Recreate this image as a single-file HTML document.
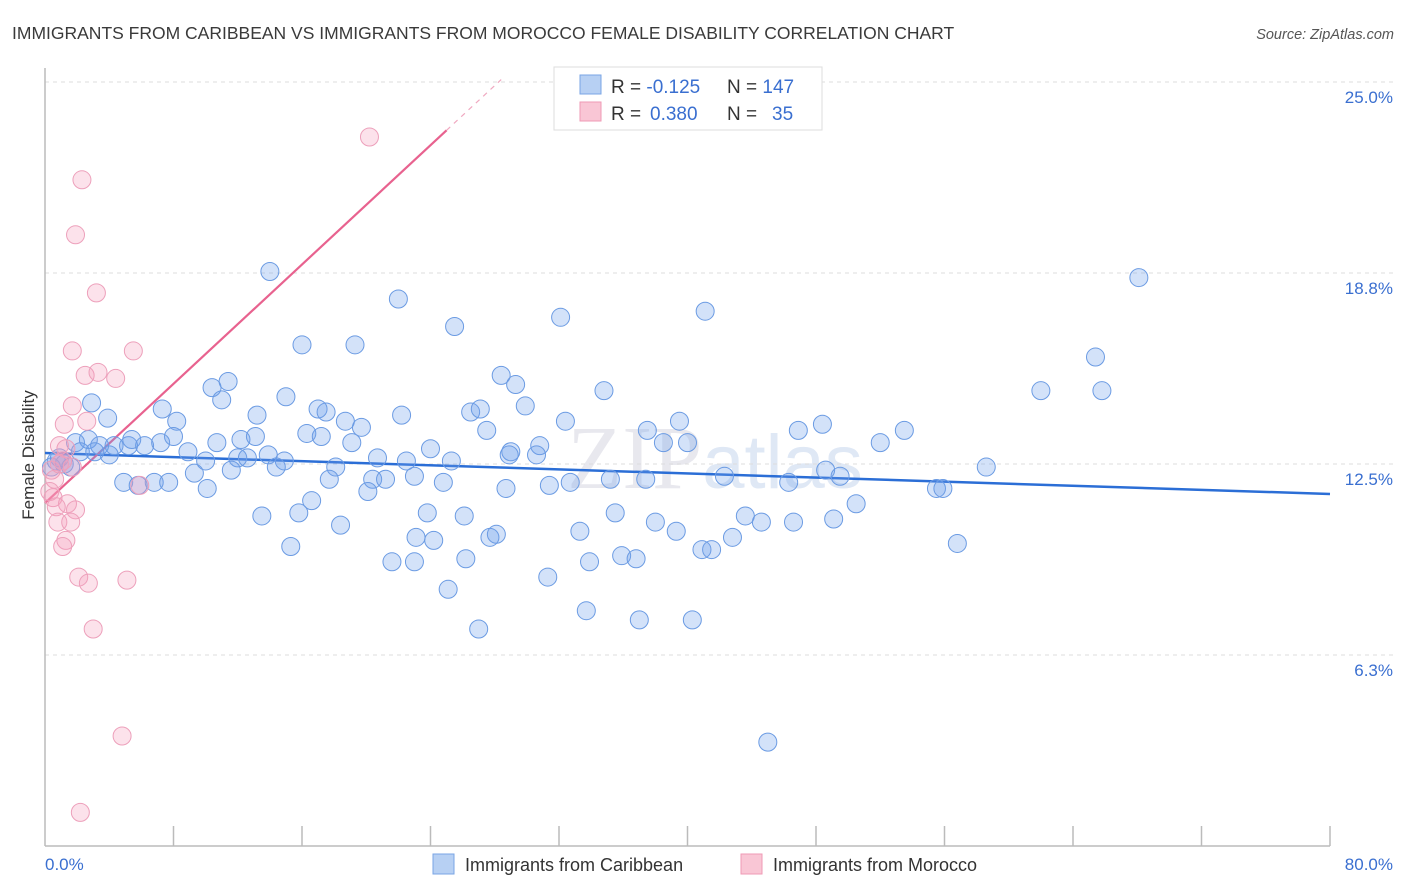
<!DOCTYPE html>
<html><head><meta charset="utf-8"><style>
body{margin:0;background:#fff;font-family:"Liberation Sans",sans-serif}
</style></head><body>
<svg id="chart" width="1406" height="892" xmlns="http://www.w3.org/2000/svg" style="display:block">
<text x="12" y="39" font-size="17.5" fill="#3a3a3a">IMMIGRANTS FROM CARIBBEAN VS IMMIGRANTS FROM MOROCCO FEMALE DISABILITY CORRELATION CHART</text>
<text x="1394" y="39" font-size="14.5" fill="#555" font-style="italic" text-anchor="end">Source: ZipAtlas.com</text>
<text x="715" y="488" font-size="90" fill="#e8e8ee" text-anchor="middle" font-family="Liberation Serif,serif">ZIP<tspan fill="#dfe8f5" font-family="Liberation Sans,sans-serif" font-size="76">atlas</tspan></text>
<g id="grid"></g>
<g id="axes"></g>
<g id="lines"></g>
<g id="pts"></g>
<text transform="translate(34,455) rotate(-90)" font-size="17" fill="#333" text-anchor="middle">Female Disability</text>
<g>
<rect x="554" y="67" width="268" height="63" fill="#fff" stroke="#ddd"/>
<rect x="580" y="75" width="21" height="19" fill="#b7d0f3" stroke="#7aa5e5"/>
<rect x="580" y="102" width="21" height="19" fill="#f9c6d5" stroke="#ef9ab5"/>
<text x="611" y="93" font-size="19" fill="#333">R = <tspan fill="#3a6fd0">-0.125</tspan><tspan x="727">N = </tspan><tspan fill="#3a6fd0">147</tspan></text>
<text x="611" y="120" font-size="19" fill="#333">R = <tspan fill="#3a6fd0" x="650">0.380</tspan><tspan x="727">N = </tspan><tspan fill="#3a6fd0" x="772">35</tspan></text>
</g>
<g>
<rect x="433" y="854" width="21" height="20" fill="#b7d0f3" stroke="#7aa5e5"/>
<text x="465" y="871" font-size="18" fill="#333">Immigrants from Caribbean</text>
<rect x="741" y="854" width="21" height="20" fill="#f9c6d5" stroke="#ef9ab5"/>
<text x="773" y="871" font-size="18" fill="#333">Immigrants from Morocco</text>
</g>
</svg>
<script>
const yTicks=[6.25,12.5,18.75,25];
const yTickLabels=["6.3%","12.5%","18.8%","25.0%"];
const xTickLabels=["0.0%","80.0%"];
const blueX=[14.0,22.0,25.5,32.1,41.1,68.1,16.0,19.3,65.4,28.4,29.3,34.8,62.0,65.8,10.4,11.4,11.0,15.0,7.3,8.2,13.2,17.0,17.5,18.7,22.2,26.5,27.1,29.9,32.4,3.9,2.9,27.5,37.5,39.5,40.0,46.9,48.4,53.5,8.0,16.3,17.2,19.7,10.7,12.2,13.1,19.1,24.0,30.8,29.0,38.5,52.0,1.9,2.7,3.4,4.3,5.2,5.4,6.2,7.2,8.9,10.0,12.0,12.6,13.9,14.9,18.1,20.7,22.5,25.3,28.9,30.6,9.3,11.6,14.4,17.7,20.4,21.2,23.0,24.8,28.7,31.4,32.7,35.2,37.4,42.3,46.3,48.6,49.5,55.5,55.9,58.6,4.9,5.8,6.8,7.7,10.1,20.1,16.6,15.8,13.5,18.4,23.8,26.1,33.3,35.5,38.0,39.3,43.6,44.6,46.6,49.1,50.5,23.1,24.2,27.7,28.1,42.8,15.3,21.6,23.0,26.2,35.9,36.8,33.9,40.9,41.5,56.8,31.3,25.1,33.7,37.0,40.3,27.0,45.0,0.7,1.2,1.6,0.9,0.4,2.2,3.1,4.0];
const blueY=[18.8,17.9,17.0,17.3,17.5,18.6,16.4,16.4,16.0,15.4,15.1,14.9,14.9,14.9,15.0,15.2,14.6,14.7,14.3,13.9,14.1,14.3,14.2,13.9,14.1,14.2,14.3,14.4,13.9,14.0,14.5,13.6,13.6,13.9,13.2,13.6,13.8,13.6,13.4,13.5,13.4,13.7,13.2,13.3,13.4,13.2,13.0,13.1,12.9,13.2,13.2,13.2,13.3,13.1,13.1,13.1,13.3,13.1,13.2,12.9,12.6,12.7,12.7,12.8,12.6,12.4,12.7,12.6,12.6,12.8,12.8,12.2,12.3,12.4,12.0,12.0,12.0,12.1,11.9,11.7,11.8,11.9,12.0,12.0,12.1,11.9,12.3,12.1,11.7,11.7,12.4,11.9,11.8,11.9,11.9,11.7,11.6,11.3,10.9,10.8,10.5,10.9,10.8,10.3,10.9,10.6,10.3,10.8,10.6,10.6,10.7,11.2,10.1,10.0,10.1,10.2,10.1,9.8,9.3,9.3,9.4,9.5,9.4,9.3,9.7,9.7,9.9,8.8,8.4,7.7,7.4,7.4,7.1,3.4,12.6,12.5,12.4,12.7,12.4,12.9,12.9,12.8];
const pinkX=[20.2,2.3,1.9,3.2,1.7,5.5,2.5,3.3,4.4,1.7,1.2,2.6,0.9,1.7,0.4,0.6,0.3,0.5,1.4,1.9,0.7,0.8,1.6,1.3,1.1,2.1,2.7,5.1,3.0,4.8,2.2,0.9,1.3,5.9,1.1];
const pinkY=[23.2,21.8,20.0,18.1,16.2,16.2,15.4,15.5,15.3,14.4,13.8,13.9,13.1,12.4,12.3,12.0,11.6,11.4,11.2,11.0,11.1,10.6,10.6,10.0,9.8,8.8,8.6,8.7,7.1,3.6,1.1,12.5,13.0,11.8,12.6];
const blueTrend=[12.86,11.52];
const pinkTrend=[11.22,0.488];

const X0=45,X1=1330,Y0=846,YT=82;
const sx=v=>X0+v/80*(X1-X0);
const sy=v=>Y0-v/25*(Y0-YT);
const NS="http://www.w3.org/2000/svg";
function mk(tag,attrs,parent){const e=document.createElementNS(NS,tag);for(const k in attrs)e.setAttribute(k,attrs[k]);parent.appendChild(e);return e;}
const grid=document.getElementById('grid'),axes=document.getElementById('axes'),lines=document.getElementById('lines'),pts=document.getElementById('pts');
yTicks.forEach((t,i)=>{
  const l=mk('line',{x1:X0,x2:1394,y1:sy(t),y2:sy(t),stroke:'#ddd','stroke-dasharray':'4,4'},grid);
  
  
  const tx=mk('text',{x:1393,y:sy(t)+21,'font-size':17,fill:'#3a6fd0','text-anchor':'end'},axes);
  tx.textContent=yTickLabels[i];
  
  
});
const ax=mk('line',{x1:X0,x2:X0,y1:68,y2:Y0,stroke:'#bbb','stroke-width':1.5},axes);


const bx=mk('line',{x1:X0,x2:X1,y1:Y0,y2:Y0,stroke:'#bbb','stroke-width':1.5},axes);


for(let i=1;i<=10;i++){
  const t=mk('line',{x1:sx(i*8),x2:sx(i*8),y1:Y0-20,y2:Y0,stroke:'#bbb','stroke-width':1.5},axes);
  
  
}
const xl0=mk('text',{x:45,y:870,'font-size':17,fill:'#3a6fd0'},axes);xl0.textContent=xTickLabels[0];


const xl1=mk('text',{x:1393,y:870,'font-size':17,fill:'#3a6fd0','text-anchor':'end'},axes);xl1.textContent=xTickLabels[1];


blueX.forEach((v,i)=>{
  const c=mk('circle',{cx:sx(v),cy:sy(blueY[i]),r:9,fill:'rgba(110,160,235,0.3)',stroke:'#6b9be3','stroke-width':1},pts);
  
  
});
pinkX.forEach((v,i)=>{
  const c=mk('circle',{cx:sx(v),cy:sy(pinkY[i]),r:9,fill:'rgba(245,160,190,0.3)',stroke:'#eda0bb','stroke-width':1},pts);
  
  
});
const bl=mk('line',{x1:sx(0),y1:sy(blueTrend[0]),x2:sx(80),y2:sy(blueTrend[1]),stroke:'#2b6ed6','stroke-width':2.5},lines);


const pEnd=25.0, pDash=28.4;
const pl=mk('line',{x1:sx(0),y1:sy(pinkTrend[0]),x2:sx(pEnd),y2:sy(pinkTrend[0]+pinkTrend[1]*pEnd),stroke:'#e8628f','stroke-width':2.2},lines);


const pd=mk('line',{x1:sx(pEnd),y1:sy(pinkTrend[0]+pinkTrend[1]*pEnd),x2:sx(pDash),y2:sy(pinkTrend[0]+pinkTrend[1]*pDash),stroke:'#f0a8c0','stroke-width':1.2,'stroke-dasharray':'5,5'},lines);


</script>
</body></html>
